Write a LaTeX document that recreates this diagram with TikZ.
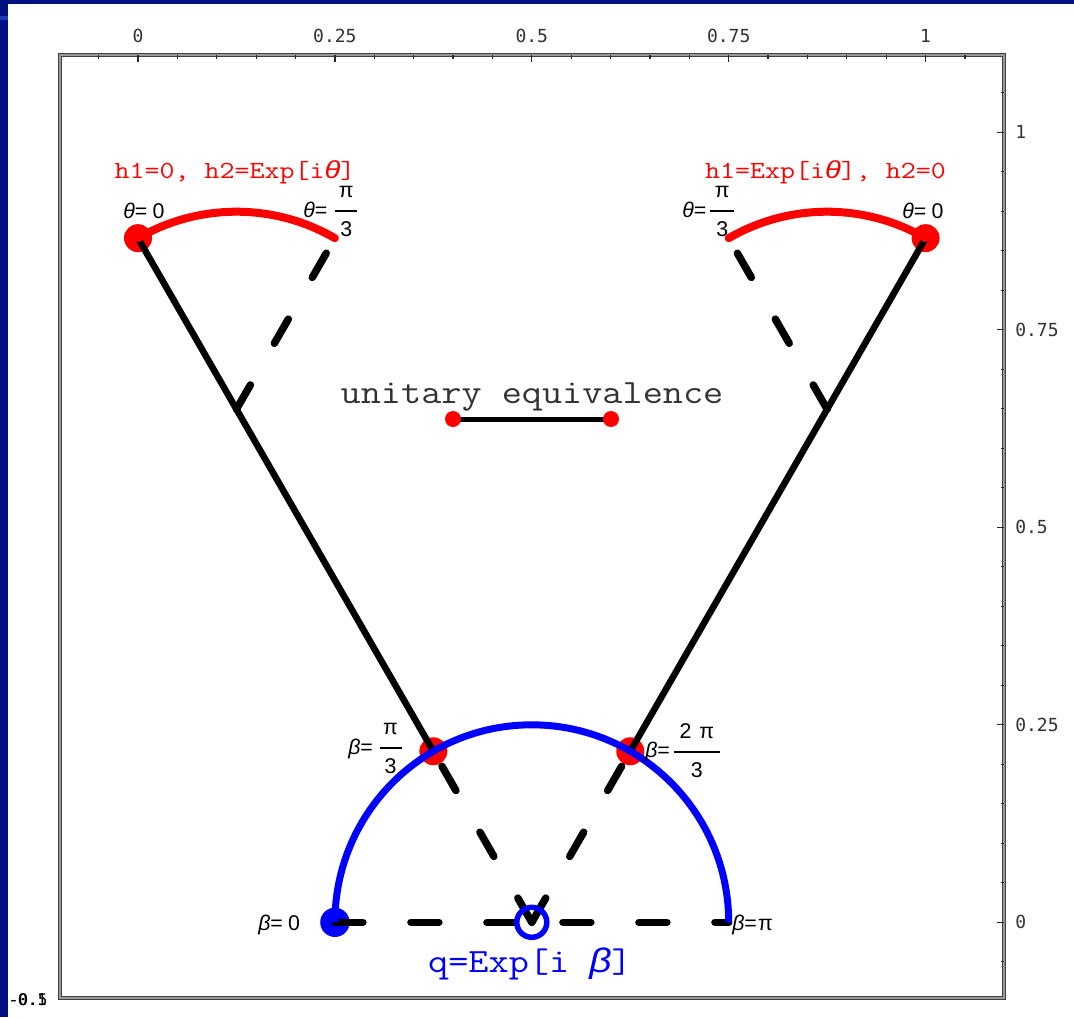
\documentclass[tikz,border=0pt]{standalone}
\usepackage{fontspec}
\usepackage{graphicx}
\newfontfamily\lsans{Liberation Sans}
\newfontfamily\dmono{DejaVu Sans Mono}
\definecolor{navy}{RGB}{0,16,128}
\definecolor{navylight}{RGB}{30,60,180}
\definecolor{ticklab}{RGB}{50,50,50}
\newdimen\px \px=0.75pt
\newcommand\vfrac[3]{\ensuremath{\vcenter{\offinterlineskip\halign{\hbox to #1\px{\hss##\hss}\cr
\vrule height13\px width0pt #2\cr
\noalign{\kern13\px\hrule height1.5\px\kern10\px}
\vrule height13\px width0pt #3\cr
\noalign{\kern3\px}}}}}
\newcommand\sit[1]{{\lsans\itshape #1}}
\begin{document}
\begin{tikzpicture}[x=0.75pt,y=-0.75pt,
  tlab/.style={font=\dmono\fontsize{13.5}{16}\selectfont, text=ticklab, inner sep=0},
  glab/.style={font=\lsans\fontsize{16}{19}\selectfont, inner sep=0, anchor=base west},
  flab/.style={font=\lsans\fontsize{16}{19}\selectfont, inner sep=0, anchor=west},
  courbig/.style={font=\ttfamily\fontsize{25.5}{28}\selectfont, inner sep=0, anchor=base},
  coursmall/.style={font=\ttfamily\fontsize{18.5}{22}\selectfont, inner sep=0, anchor=base, text=red},
  tickmark/.style={line width=0.9pt, black!85},
  solidblk/.style={line width=4.9pt, black},
  dashblk/.style={line width=5.6pt, black, line cap=round, dash pattern=on 21pt off 36pt},
  redarc/.style={line width=6pt, red, line cap=round},
  bluearc/.style={line width=5.25pt, blue},
  reddot/.style={circle, fill=red, inner sep=0, minimum size=21pt},
  smalldot/.style={circle, fill=red, inner sep=0, minimum size=12pt},
  bluedot/.style={circle, fill=blue, inner sep=0, minimum size=22pt},
  bluering/.style={circle, draw=blue, line width=4.1pt, inner sep=0, minimum size=22.5pt}]
% background
\fill[white] (0,0) rectangle (1074,1017);
\fill[navy] (0,0) rectangle (1074,4);
\fill[navy] (0,0) rectangle (8,1017);
\fill[navylight] (0,16) rectangle (8,20);
\useasboundingbox (0,0) rectangle (1074,1017);
% frame
\draw[line width=3.4pt, black!75] (60,55) rectangle (1004,998);
\draw[line width=1.6pt, black!40] (60,55) rectangle (1004,998);
% ticks
\foreach \k in {-1,...,21} \draw[tickmark] ({138+39.38*\k},55) -- ++(0,3.5);
\foreach \k in {0,5,...,20} \draw[tickmark] ({138+39.38*\k},55) -- ++(0,7);
\foreach \k in {-1,...,21} \draw[tickmark] (1004,{922.3-39.5*\k}) -- ++(-3.5,0);
\foreach \k in {0,5,...,20} \draw[tickmark] (1004,{922.3-39.5*\k}) -- ++(-7,0);
% tick labels
\node[tlab] (tx0) at (138,35.5) {0};
\node[tlab] (tx1) at (334.9,35.5) {0.25};
\node[tlab] (tx2) at (531.8,35.5) {0.5};
\node[tlab] (tx3) at (728.7,35.5) {0.75};
\node[tlab] (tx4) at (925.6,35.5) {1};
\node[tlab, anchor=west] (ty0) at (1015,922.3) {0};
\node[tlab, anchor=west] (ty1) at (1015,724.8) {0.25};
\node[tlab, anchor=west] (ty2) at (1015,527.3) {0.5};
\node[tlab, anchor=west] (ty3) at (1015,329.8) {0.75};
\node[tlab, anchor=west] (ty4) at (1015,132.3) {1};
\node[tlab, anchor=west, text=black, font=\dmono\fontsize{12}{14}\selectfont] (gl1) at (8,1000) {-0.1};
\node[tlab, anchor=west, text=black, font=\dmono\fontsize{12}{14}\selectfont] (gl2) at (8.8,1000) {-0.5};
% data
\begin{scope}[shift={(138,922.3)}, x=590.7pt, y=592.5pt]
  \coordinate (TL) at (0,0.8660);
  \coordinate (TR) at (1,0.8660);
  \coordinate (TLe) at (0.25,0.8660);
  \coordinate (TRe) at (0.75,0.8660);
  \coordinate (CL) at (0.125,0.6495);
  \coordinate (CR) at (0.875,0.6495);
  \coordinate (BL) at (0.375,0.2165);
  \coordinate (BR) at (0.625,0.2165);
  \coordinate (B0) at (0.25,0);
  \coordinate (Bpi) at (0.75,0);
  \coordinate (O) at (0.5,0);
  \node[reddot] (dTL) at (TL) {};
  \node[reddot] (dTR) at (TR) {};
  \node[reddot] (dBL) at (BL) {};
  \node[reddot] (dBR) at (BR) {};
  \node[bluedot] (dB0) at (B0) {};
  \draw[solidblk] (TL) -- (BL);
  \draw[solidblk] (TR) -- (BR);
  \draw[dashblk] (CL) -- (TLe);
  \draw[dashblk] (CR) -- (TRe);
  \draw[dashblk] (O) -- (BL);
  \draw[dashblk] (O) -- (BR);
  \draw[dashblk] (B0) -- (Bpi);
  \draw[redarc] (TL) arc[start angle=120, end angle=60, radius=0.25];
  \draw[redarc] (TR) arc[start angle=60, end angle=120, radius=0.25];
  \draw[bluearc] (B0) arc[start angle=180, end angle=0, radius=0.25];
  \node[bluering] (ring) at (O) {};
\end{scope}
% unitary equivalence
\coordinate (u1) at (453,419);
\coordinate (u2) at (611,419);
\draw[line width=3.75pt, black] (u1) -- (u2);
\node[smalldot] (du1) at (u1) {};
\node[smalldot] (du2) at (u2) {};
\node[courbig, text=black!80] (ue) at (532,403) {\scalebox{1.15}[1]{unitary equivalence}};
% red labels
\node[coursmall] (h1l) at (235,178) {\scalebox{1.18}[1]{h1=0, h2=Exp[i\sit{θ}]}};
\node[coursmall] (h1r) at (825.5,178) {\scalebox{1.18}[1]{h1=Exp[i\sit{θ}], h2=0}};
% blue label
\node[courbig, text=blue] (ql) at (530,972) {\scalebox{1.15}[1]{q=Exp[i \sit{β}]}};
% angle labels
\node[glab] (th0l) at (123,218) {\sit{θ}=\hspace{4pt}0};
\node[glab] (th0r) at (902,218) {\sit{θ}=\hspace{4pt}0};
\node[flab] (thpl) at (303,212) {\sit{θ}=\hspace{6pt}\vfrac{22}{π}{3}};
\node[flab] (thpr) at (682,212) {\sit{θ}=\hspace{3pt}\vfrac{24}{π}{3}};
\node[flab] (bpl) at (348,749) {\sit{β}=\hspace{5pt}\vfrac{22}{π}{3}};
\node[flab] (bpr) at (645,752) {\sit{β}=\hspace{3pt}\vfrac{46}{2\hspace{6pt}π}{3}};
\node[glab] (b0) at (258,930) {\sit{β}=\hspace{4pt}0};
\node[glab] (bpi) at (732,930) {\sit{β}=\hspace{1pt}π};
\end{tikzpicture}
\end{document}
